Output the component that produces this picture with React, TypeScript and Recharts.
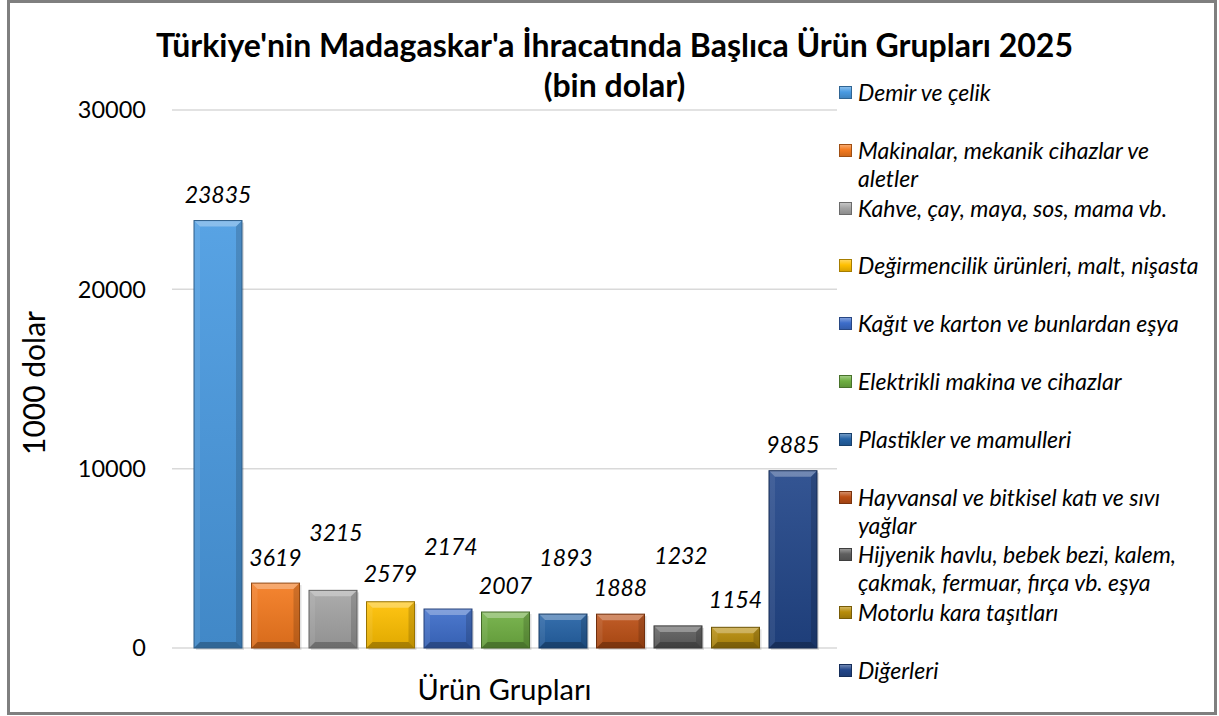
import React from "react";
import { BarChart, Bar, XAxis, YAxis, CartesianGrid, Legend, LabelList, Label } from "recharts";

// Ürün grupları (legend order = bar order)
const categories = [
  "Demir ve çelik",
  "Makinalar, mekanik cihazlar ve aletler",
  "Kahve, çay, maya, sos, mama vb.",
  "Değirmencilik ürünleri, malt, nişasta",
  "Kağıt ve karton ve bunlardan eşya",
  "Elektrikli makina ve cihazlar",
  "Plastikler ve mamulleri",
  "Hayvansal ve bitkisel katı ve sıvı yağlar",
  "Hijyenik havlu, bebek bezi, kalem, çakmak, fermuar, fırça vb. eşya",
  "Motorlu kara taşıtları",
  "Diğerleri",
];

// bin dolar
const values = [23835, 3619, 3215, 2579, 2174, 2007, 1893, 1888, 1232, 1154, 9885];

const colors = [
  "#4A9BE2", "#F47A1F", "#A5A5A5", "#FFC000", "#3D6DCA", "#6FAF42",
  "#2563A6", "#BC4F15", "#5F5F5F", "#B88D0A", "#22468A",
];

const yTicks = [0, 10000, 20000, 30000];

// labels were nudged by hand in the original, every other one sits higher
const labelLift = [27, 26, 58, 29, 63, 27, 57, 27, 71, 28, 27];

const seriesKeys = categories.map((_, i) => `s${i}`);
const chartData = [
  { group: "", ...Object.fromEntries(seriesKeys.map((k, i) => [k, values[i]])) },
];

const FONT = "Lato, 'Open Sans', sans-serif";

function mix(hex: string, other: string, t: number) {
  const a = parseInt(hex.slice(1), 16);
  const b = parseInt(other.slice(1), 16);
  const ch = (v: number, s: number) => (v >> s) & 255;
  const r = Math.round(ch(a, 16) * (1 - t) + ch(b, 16) * t);
  const g = Math.round(ch(a, 8) * (1 - t) + ch(b, 8) * t);
  const bl = Math.round(ch(a, 0) * (1 - t) + ch(b, 0) * t);
  return `rgb(${r},${g},${bl})`;
}

// bevelled "3D" bar like the Excel preset
function BevelBar(props: any) {
  const { x, y, width, height, fill } = props;
  if (!height || height <= 0) return null;
  const b = Math.min(6, width / 2, height / 2);
  const id = `bev${fill.slice(1)}`;
  return (
    <g>
      <defs>
        <linearGradient id={id} x1="0" y1="0" x2="0" y2="1">
          <stop offset="0" stopColor={mix(fill, "#ffffff", 0.08)} />
          <stop offset="1" stopColor={mix(fill, "#000000", 0.12)} />
        </linearGradient>
      </defs>
      <rect x={x + 2} y={y + 2} width={width} height={height} fill="rgba(0,0,0,0.12)" />
      <rect x={x} y={y} width={width} height={height} fill={`url(#${id})`} />
      <polygon
        points={`${x},${y} ${x + width},${y} ${x + width - b},${y + b} ${x + b},${y + b}`}
        fill="#ffffff"
        fillOpacity={0.3}
      />
      <polygon
        points={`${x},${y} ${x + b},${y + b} ${x + b},${y + height - b} ${x},${y + height}`}
        fill="#ffffff"
        fillOpacity={0.08}
      />
      <polygon
        points={`${x + width},${y} ${x + width - b},${y + b} ${x + width - b},${y + height - b} ${x + width},${y + height}`}
        fill="#000000"
        fillOpacity={0.15}
      />
      <polygon
        points={`${x},${y + height} ${x + b},${y + height - b} ${x + width - b},${y + height - b} ${x + width},${y + height}`}
        fill="#000000"
        fillOpacity={0.25}
      />
      <rect x={x} y={y} width={width} height={height} fill="none" stroke={mix(fill, "#000000", 0.4)} strokeWidth={1} />
    </g>
  );
}

const makeLabel = (i: number) => (p: any) => {
  const { x, y, width, value } = p;
  return (
    <text
      x={x + width / 2 + (labelLift[i] > 40 ? 3 : 0)}
      y={y - labelLift[i]}
      textAnchor="middle"
      dominantBaseline="central"
      fontSize={23}
      fontStyle="italic"
      fontFamily={FONT}
      fill="#000"
    >
      {value}
    </text>
  );
};

function renderLegend(props: any) {
  // keep series order (recharts sorts the payload by name)
  const items = [...(props.payload || [])].sort(
    (a: any, b: any) => seriesKeys.indexOf(a.dataKey) - seriesKeys.indexOf(b.dataKey)
  );
  return (
    <div style={{ position: "relative", fontFamily: FONT }}>
      {items.map((entry: any) => {
        const i = seriesKeys.indexOf(entry.dataKey);
        return (
          <div
            key={entry.dataKey}
            style={{
              position: "absolute",
              top: i * 57.8,
              left: 0,
              width: 372,
              display: "flex",
              alignItems: "flex-start",
            }}
          >
            <span
              style={{
                width: 13,
                height: 13,
                marginTop: 8,
                marginLeft: 3,
                flex: "none",
                boxSizing: "border-box",
                border: `1px solid ${mix(colors[i], "#000000", 0.35)}`,
                background: `linear-gradient(180deg, ${mix(colors[i], "#ffffff", 0.35)} 0%, ${colors[i]} 45%, ${mix(colors[i], "#000000", 0.15)} 100%)`,
              }}
            />
            <span
              style={{
                marginLeft: 6,
                width: 350,
                fontSize: 23,
                fontStyle: "italic",
                lineHeight: "28px",
                color: "#000",
              }}
            >
              {entry.value}
            </span>
          </div>
        );
      })}
    </div>
  );
}

const renderYTitle = (p: any) => {
  const vb = p.viewBox;
  const cx = 33;
  const cy = vb.y + vb.height / 2 + 4;
  return (
    <text
      x={cx}
      y={cy}
      transform={`rotate(-90 ${cx} ${cy})`}
      textAnchor="middle"
      dominantBaseline="central"
      fontSize={30}
      fontFamily={FONT}
      fill="#000"
    >
      1000 dolar
    </text>
  );
};

export default function App() {
  return (
    <div
      style={{
        position: "absolute",
        left: 0,
        top: 0,
        width: 1219,
        height: 716,
        background: "#fff",
        fontFamily: FONT,
      }}
    >
      <div
        style={{
          position: "absolute",
          left: 7,
          top: 0,
          width: 1210,
          height: 715,
          border: "3px solid #7f7f7f",
          boxSizing: "border-box",
        }}
      />
      <div
        style={{
          position: "absolute",
          left: 5,
          top: 25,
          width: 1219,
          textAlign: "center",
          fontSize: 32,
          fontWeight: 700,
          lineHeight: "40px",
          color: "#000",
        }}
      >
        Türkiye'nin Madagaskar'a İhracatında Başlıca Ürün Grupları 2025
        <br />
        (bin dolar)
      </div>
      <div style={{ position: "absolute", left: 0, top: 0 }}>
        <BarChart
          width={1219}
          height={716}
          data={chartData}
          margin={{ top: 110, right: 382, bottom: 8, left: 12 }}
          barCategoryGap={22}
          barGap={9.5}
        >
          <CartesianGrid vertical={false} stroke="#d9d9d9" strokeWidth={1.5} />
          <XAxis
            dataKey="group"
            tick={false}
            tickLine={false}
            axisLine={false}
            height={60}
          >
            <Label
              value="Ürün Grupları"
              position="insideBottom"
              offset={8}
              fontSize={29}
              fontFamily={FONT}
              fill="#000"
            />
          </XAxis>
          <YAxis
            width={160}
            domain={[0, 30000]}
            ticks={yTicks}
            tickLine={false}
            axisLine={false}
            tickSize={0}
            tickMargin={26}
            tick={{ fontSize: 23.5, fill: "#000", fontFamily: FONT }}
            label={{ content: renderYTitle }}
          />
          <Legend
            layout="vertical"
            align="center"
            verticalAlign="middle"
            content={renderLegend}
            wrapperStyle={{ left: 836, top: 78, width: 378, height: 620 }}
          />
          {seriesKeys.map((k, i) => (
            <Bar
              key={k}
              dataKey={k}
              name={categories[i]}
              fill={colors[i]}
              shape={BevelBar}
              isAnimationActive={false}
            >
              <LabelList dataKey={k} content={makeLabel(i)} />
            </Bar>
          ))}
        </BarChart>
      </div>
    </div>
  );
}
